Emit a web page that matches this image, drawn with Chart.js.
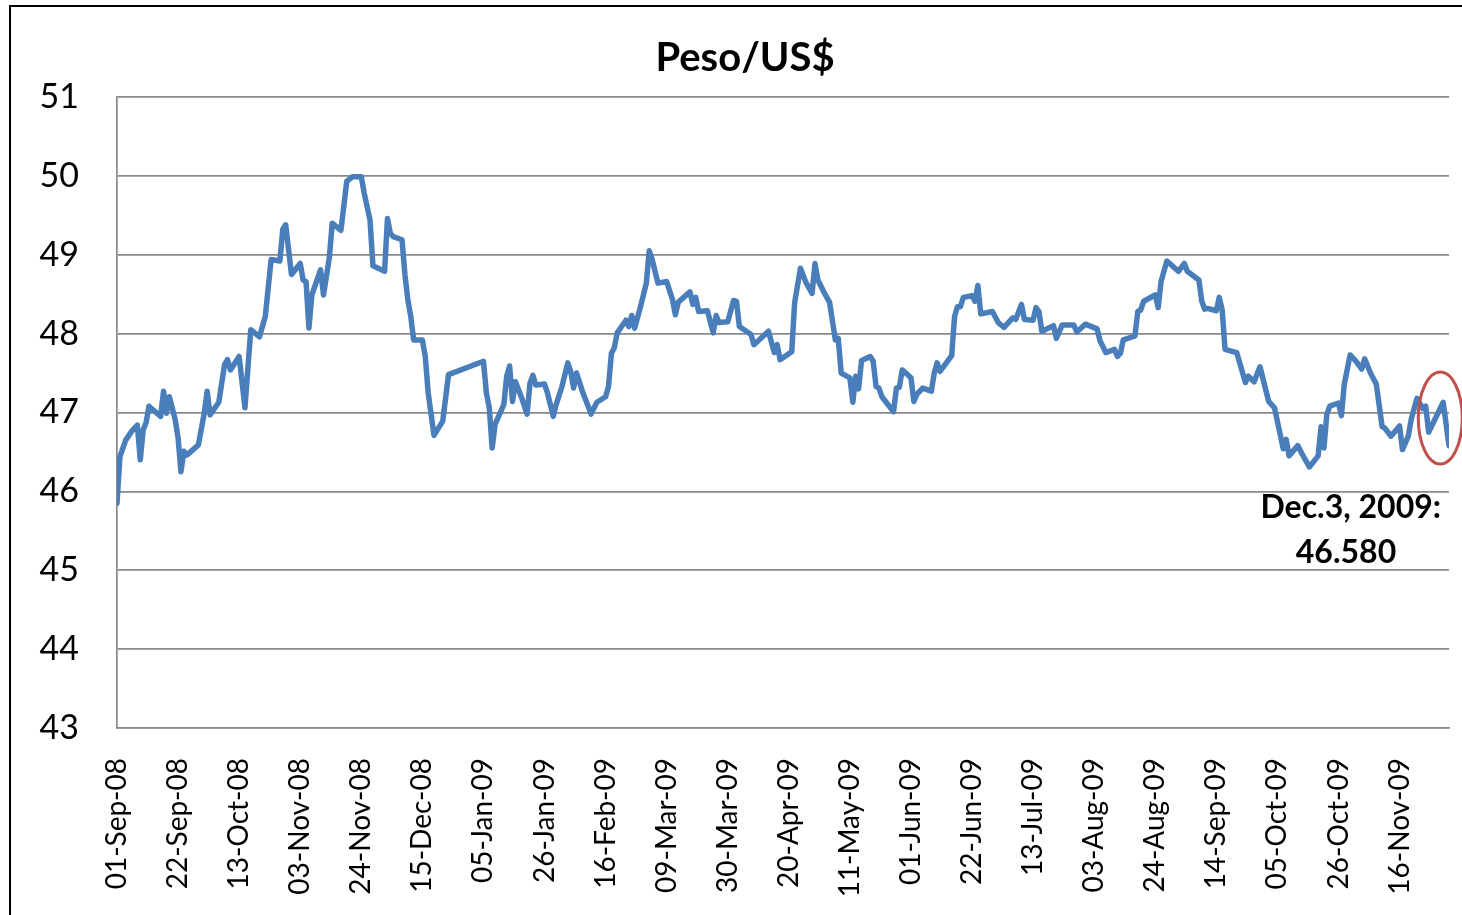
<!DOCTYPE html>
<html>
<head>
<meta charset="utf-8">
<title>Peso/US$</title>
<script src="https://cdn.jsdelivr.net/npm/chart.js@4.4.1/dist/chart.umd.min.js"></script>
<style>
    html, body { margin: 0; padding: 0; background: #fff; overflow: hidden; }
    #wrap { position: relative; width: 1462px; height: 915px; }
    #frame {
        position: absolute; left: 9px; top: 5px; width: 1600px; height: 1100px;
        border-left: 2.5px solid #000; border-top: 2.5px solid #000;
        pointer-events: none;
    }
    canvas { position: absolute; left: 0; top: 0; }
</style>
</head>
<body>
<div id="wrap">
    <canvas id="pesoChart" width="1462" height="915"></canvas>
    <div id="frame"></div>
</div>
<script>
// days counted from 01-Sep-2008
const days = [
    0, 1, 3, 5, 7, 8, 9, 10, 11, 15, 16, 17, 18, 20, 21, 22, 23, 24, 28, 30,
    31, 32, 35, 37, 38, 39, 42, 44, 46, 49, 51, 53, 56, 57, 58, 60, 63, 64, 65, 66,
    67, 70, 71, 73, 74, 77, 79, 81, 84, 85, 87, 88, 92, 93, 94, 95, 98, 99, 100, 101,
    102, 105, 106, 107, 109, 112, 114, 126, 127, 128, 129, 130, 133, 134, 135, 136, 137, 139, 141, 142,
    143, 144, 147, 148, 150, 151, 153, 155, 156, 157, 158, 160, 162, 163, 165, 168, 169, 170, 171, 172,
    175, 176, 177, 178, 180, 182, 183, 184, 186, 189, 191, 192, 193, 197, 198, 199, 200, 203, 205, 206,
    207, 210, 212, 213, 214, 218, 219, 224, 226, 227, 228, 232, 233, 235, 237, 239, 240, 241, 243, 245,
    247, 248, 249, 252, 253, 254, 255, 256, 259, 260, 261, 262, 263, 267, 268, 269, 270, 273, 274, 275,
    277, 280, 281, 282, 283, 287, 288, 289, 290, 291, 294, 295, 296, 297, 301, 303, 305, 308, 309, 311,
    312, 315, 316, 317, 318, 322, 323, 325, 329, 330, 333, 337, 338, 340, 343, 344, 345, 346, 350, 351,
    352, 353, 357, 358, 359, 361, 365, 367, 368, 372, 373, 374, 375, 378, 379, 380, 381, 385, 388, 389,
    391, 393, 396, 398, 401, 402, 403, 406, 408, 410, 413, 414, 415, 416, 417, 420, 421, 422, 424, 426,
    428, 429, 431, 433, 435, 436, 438, 441, 442, 444, 445, 447, 449, 450, 451, 456, 458
];

// pesos per US dollar
const rates = [
    45.85, 46.44, 46.65, 46.76, 46.84, 46.40, 46.78, 46.87, 47.08, 46.95, 47.27, 46.99, 47.20, 46.91, 46.68, 46.25, 46.51, 46.46, 46.59, 46.99,
    47.27, 46.97, 47.13, 47.61, 47.67, 47.54, 47.71, 47.06, 48.05, 47.96, 48.22, 48.94, 48.92, 49.32, 49.38, 48.75, 48.89, 48.68, 48.66, 48.07,
    48.49, 48.81, 48.49, 48.96, 49.40, 49.31, 49.93, 49.99, 49.99, 49.78, 49.44, 48.86, 48.79, 49.46, 49.27, 49.23, 49.19, 48.75, 48.43, 48.22,
    47.92, 47.92, 47.71, 47.25, 46.71, 46.89, 47.48, 47.65, 47.25, 47.06, 46.55, 46.85, 47.10, 47.46, 47.59, 47.14, 47.39, 47.20, 46.98, 47.37,
    47.47, 47.35, 47.36, 47.25, 46.95, 47.10, 47.33, 47.63, 47.52, 47.31, 47.50, 47.27, 47.08, 46.98, 47.13, 47.20, 47.33, 47.75, 47.82, 48.01,
    48.17, 48.09, 48.23, 48.07, 48.34, 48.64, 49.05, 48.94, 48.64, 48.66, 48.43, 48.24, 48.40, 48.53, 48.37, 48.46, 48.28, 48.29, 48.01, 48.23,
    48.14, 48.15, 48.42, 48.41, 48.09, 47.99, 47.86, 48.03, 47.76, 47.86, 47.67, 47.77, 48.39, 48.83, 48.64, 48.51, 48.89, 48.68, 48.53, 48.40,
    47.92, 47.94, 47.50, 47.44, 47.13, 47.46, 47.30, 47.66, 47.71, 47.65, 47.33, 47.31, 47.20, 47.01, 47.31, 47.32, 47.54, 47.44, 47.14, 47.23,
    47.31, 47.27, 47.50, 47.63, 47.52, 47.72, 48.22, 48.34, 48.34, 48.46, 48.48, 48.41, 48.61, 48.25, 48.28, 48.14, 48.08, 48.20, 48.18, 48.37,
    48.18, 48.17, 48.33, 48.28, 48.03, 48.10, 47.94, 48.11, 48.11, 48.02, 48.12, 48.06, 47.91, 47.76, 47.80, 47.71, 47.75, 47.92, 47.97, 48.28,
    48.30, 48.41, 48.49, 48.33, 48.66, 48.92, 48.79, 48.89, 48.79, 48.68, 48.41, 48.31, 48.32, 48.29, 48.46, 48.30, 47.80, 47.76, 47.38, 47.46,
    47.39, 47.58, 47.14, 47.06, 46.54, 46.66, 46.45, 46.58, 46.44, 46.31, 46.45, 46.82, 46.55, 46.98, 47.08, 47.12, 46.96, 47.36, 47.73, 47.65,
    47.55, 47.68, 47.50, 47.36, 46.82, 46.80, 46.70, 46.83, 46.53, 46.70, 46.91, 47.18, 47.05, 47.08, 46.75, 47.13, 46.58
];

const tickDays = [0, 21, 42, 63, 84, 105, 126, 147, 168, 189, 210, 231, 252, 273, 294, 315, 336, 357, 378, 399, 420, 441];
const tickLabels = [
    '01-Sep-08', '22-Sep-08', '13-Oct-08', '03-Nov-08', '24-Nov-08', '15-Dec-08',
    '05-Jan-09', '26-Jan-09', '16-Feb-09', '09-Mar-09', '30-Mar-09', '20-Apr-09',
    '11-May-09', '01-Jun-09', '22-Jun-09', '13-Jul-09', '03-Aug-09', '24-Aug-09',
    '14-Sep-09', '05-Oct-09', '26-Oct-09', '16-Nov-09'
];

const chartTitle = 'Peso/US$';
const noteLines = ['Dec.3, 2009:', '46.580'];

const FONT = 'Lato, "Open Sans", sans-serif';
const GRID = '#8a8a8a';

// title, annotation text and the red ring round the last few days
const extrasPlugin = {
    id: 'extras',
    afterDraw(chart) {
        const { ctx, scales: { x, y } } = chart;
        ctx.save();

        ctx.fillStyle = '#000';
        ctx.textBaseline = 'middle';
        ctx.font = 'bold 40px ' + FONT;
        ctx.textAlign = 'center';
        ctx.fillText(chartTitle, 745, 58);

        const lastX = x.getPixelForValue(days[days.length - 1]);
        const lastY = y.getPixelForValue(rates[rates.length - 1]);

        ctx.font = 'bold 32px ' + FONT;
        ctx.textAlign = 'right';
        ctx.fillText(noteLines[0], lastX - 8, lastY + 62);
        ctx.textAlign = 'center';
        ctx.fillText(noteLines[1], lastX - 103, lastY + 107);

        ctx.strokeStyle = '#C0504D';
        ctx.lineWidth = 3;
        ctx.beginPath();
        ctx.ellipse(x.getPixelForValue(455), y.getPixelForValue(46.93), 22, 46, 0, 0, Math.PI * 2);
        ctx.stroke();

        ctx.restore();
    }
};

document.addEventListener('DOMContentLoaded', () => {
    const ctx = document.getElementById('pesoChart').getContext('2d');

    new Chart(ctx, {
        type: 'line',
        data: {
            datasets: [{
                label: chartTitle,
                data: days.map((d, i) => ({ x: d, y: rates[i] })),
                borderColor: '#4A7EBB',
                borderWidth: 5.5,
                pointRadius: 0,
                tension: 0,
                fill: false,
                borderJoinStyle: 'round',
                borderCapStyle: 'round'
            }]
        },
        options: {
            responsive: false,
            animation: false,
            devicePixelRatio: 1,
            layout: { padding: { top: 97, right: 13, bottom: 0, left: 0 } },
            plugins: {
                legend: { display: false },
                title: { display: false },
                tooltip: { enabled: false }
            },
            scales: {
                x: {
                    type: 'linear',
                    min: 0,
                    max: 458,
                    afterBuildTicks: (scale) => {
                        scale.ticks = tickDays.map(v => ({ value: v }));
                    },
                    afterFit: (scale) => {
                        scale.height = 187;
                        scale.paddingRight = 0;
                    },
                    grid: { drawOnChartArea: false, drawTicks: false },
                    border: { color: GRID, width: 1.5 },
                    ticks: {
                        autoSkip: false,
                        minRotation: 90,
                        maxRotation: 90,
                        padding: 30,
                        color: '#000',
                        font: { family: FONT, size: 28 },
                        callback: (v) => tickLabels[tickDays.indexOf(v)]
                    }
                },
                y: {
                    min: 43,
                    max: 51,
                    afterFit: (scale) => { scale.width = 117; },
                    grid: { color: GRID, lineWidth: 1.7, drawTicks: false },
                    border: { color: GRID, width: 1.7 },
                    ticks: {
                        stepSize: 1,
                        padding: 38,
                        color: '#000',
                        font: { family: FONT, size: 34 }
                    }
                }
            }
        },
        plugins: [extrasPlugin]
    });
});
</script>
</body>
</html>
